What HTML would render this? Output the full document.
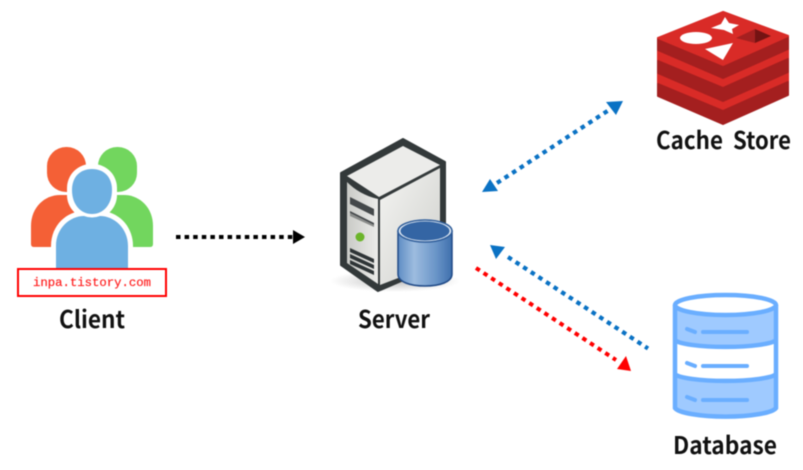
<!DOCTYPE html>
<html><head><meta charset="utf-8"><style>
html,body{margin:0;padding:0;background:#fff}
svg{display:block;filter:blur(.4px)}
text{font-family:"Noto Sans CJK KR","Liberation Sans",sans-serif;font-weight:700;fill:#111}
</style></head><body>
<svg width="803" height="470" viewBox="0 0 803 470" xmlns="http://www.w3.org/2000/svg">
<defs>
<linearGradient id="cyl" x1="0" x2="1" y1="0" y2="0"><stop offset="0" stop-color="#5f8dc4"/><stop offset=".3" stop-color="#9dbcdf"/><stop offset=".7" stop-color="#6a95c8"/><stop offset="1" stop-color="#3f70ad"/></linearGradient>
<linearGradient id="side" x1="0" x2="1" y1="0" y2="1"><stop offset="0" stop-color="#f4f4f2"/><stop offset="1" stop-color="#cfd0cc"/></linearGradient>
<linearGradient id="front" x1="0" x2="1" y1="0" y2="0"><stop offset="0" stop-color="#c9cac6"/><stop offset="1" stop-color="#ececea"/></linearGradient>
<radialGradient id="shadow" cx=".5" cy=".5" r=".5"><stop offset="0" stop-color="#777" stop-opacity=".5"/><stop offset="1" stop-color="#888" stop-opacity="0"/></radialGradient>
</defs>

<!-- Client -->
<rect x="47" y="147" width="39" height="45" rx="19" fill="#f46036"/>
<path d="M34,247Q31,247 31,244V226C31,207 45,195 60,195H90V247Z" fill="#f46036"/>
<rect x="98" y="147" width="39" height="45" rx="19" fill="#72d65e"/>
<path d="M150,247Q153,247 153,244V226C153,207 139,195 124,195H95V247Z" fill="#72d65e"/>
<rect x="67" y="164" width="50" height="55" rx="24" fill="#fff"/>
<path d="M51,270V246C51,225 67,211 84,211H100C117,211 133,225 133,246V270Z" fill="#fff"/>
<path d="M72,190C72,177 80,169 92,169C104,169 112,177 112,190C112,205 103,214 92,214C81,214 72,205 72,190Z" fill="#6eb0e2"/>
<path d="M56,270V246C56,228 70,216 84,216Q92,219 100,216C114,216 128,228 128,246V270Z" fill="#6eb0e2"/>
<rect x="18" y="269" width="148" height="27" fill="#fff" stroke="#f00" stroke-width="2"/>
<text x="92" y="286" text-anchor="middle" textLength="118" lengthAdjust="spacingAndGlyphs" style="font-family:'Liberation Mono',monospace;font-size:11.5px;font-weight:400;fill:#f22;stroke:#f22;stroke-width:.2px">inpa.tistory.com</text>
<text x="59" y="328" font-size="24" textLength="66" lengthAdjust="spacingAndGlyphs">Client</text>

<!-- black arrow -->
<line x1="176" y1="237" x2="294" y2="237" stroke="#000" stroke-width="4" stroke-dasharray="4.5 4.1"/>
<polygon points="293,230 305,237 293,244" fill="#000"/>

<!-- Server -->
<ellipse cx="395" cy="281" rx="65" ry="11" fill="url(#shadow)"/>
<path d="M341,173L403,139L445,162V262L378,291L341,265Z" fill="#33393a" stroke="#33393a" stroke-width="2" stroke-linejoin="round"/>
<path d="M347,176L403,146L440,165L379,197Z" fill="#ececea"/>
<path d="M380,200L440,168V262L380,285Z" fill="url(#side)"/>
<path d="M347,182C355,190 365,196 378,199V284L347,263Z" fill="url(#front)"/>
<path d="M350,197L374,209V216L350,204Z" fill="#44484a"/>
<path d="M350,211L374,223V225L350,213Z" fill="#44484a"/>
<path d="M350,213L374,225V227L350,216Z" fill="#8a8c8a"/>
<circle cx="360" cy="237" r="4.5" fill="#6bb52a"/>
<path d="M350,248L374,259V263L350,252ZM350,254L374,265V269L350,258ZM350,260L374,271V275L350,264Z" fill="#2e3436"/>
<path d="M398,231V274C398,282 410,286 425,286C440,286 452,282 452,274V231Z" fill="url(#cyl)" stroke="#204a87" stroke-width="1.5"/>
<ellipse cx="425" cy="231" rx="27" ry="11" fill="#dfe9f4" stroke="#2f5d9a" stroke-width="1.5"/>
<ellipse cx="425" cy="231" rx="24.5" ry="9.5" fill="#3465a4"/>
<text x="358" y="328" font-size="24" textLength="72" lengthAdjust="spacingAndGlyphs">Server</text>

<!-- Blue arrow up -->
<line x1="497" y1="183" x2="612" y2="108" stroke="#0a72c4" stroke-width="4.2" stroke-dasharray="4.5 4.6"/>
<polygon points="623,101 606,102 616,115" fill="#0a72c4"/>
<polygon points="482,192 490,179 498,191" fill="#0a72c4"/>

<!-- Blue arrow left -->
<line x1="508" y1="257" x2="648" y2="348.5" stroke="#0a72c4" stroke-width="4.2" stroke-dasharray="4.5 4.6"/>
<polygon points="490,245 505,247 496,259" fill="#0a72c4"/>

<!-- Red arrow -->
<line x1="476" y1="268" x2="616" y2="360" stroke="#f00" stroke-width="4" stroke-dasharray="4.5 4.6"/>
<polygon points="631,371 626,356 617,369" fill="#f00"/>

<!-- Redis -->
<g stroke-linejoin="round" stroke-width="2">
<path d="M658,38L723,12L788,36V82L723,111L658,84Z" fill="#d92b27" stroke="#d92b27"/>
<path d="M658,84L723,111L788,82V95L723,124L658,96Z" fill="#a41f1f" stroke="#a41f1f"/>
<path d="M658,61L723,88L788,59V72L723,101L658,73Z" fill="#a41f1f" stroke="#a41f1f"/>
<path d="M658,38L723,65L788,36V49L723,78L658,50Z" fill="#a41f1f" stroke="#a41f1f"/>
<path d="M658,38L723,12L788,36L723,65Z" fill="#d92b27" stroke="#d92b27"/>
</g>
<ellipse cx="696" cy="38" rx="16" ry="6" fill="#fff"/>
<polygon points="725,17 729,23 739,25 732,29 733,34 724,30 711,28 721,24" fill="#fff"/>
<polygon points="705,49 733,43 723,60" fill="#fff"/>
<polygon points="736,38 755,29 755,43" fill="#a52020"/>
<polygon points="755,29 771,36 755,43" fill="#741313"/>
<text x="656" y="149" font-size="24" textLength="67" lengthAdjust="spacingAndGlyphs">Cache</text>
<text x="733" y="149" font-size="24" textLength="58" lengthAdjust="spacingAndGlyphs">Store</text>

<!-- Database -->
<path d="M675,305V408A51,10 0 0 0 776,408V305Z" fill="#9fcaff"/>
<path d="M675,341A51,8 0 0 0 776,341V374A51,8 0 0 1 675,374Z" fill="#fff"/>
<path d="M675,305V408A51,10 0 0 0 776,408V305M675,340A51,8 0 0 0 776,340M675,374A51,8 0 0 0 776,374" fill="none" stroke="#6aaeff" stroke-width="4.5"/>
<ellipse cx="725.5" cy="305" rx="50.5" ry="10" fill="#fff" stroke="#6aaeff" stroke-width="4.5"/>
<g stroke="#6aaeff" stroke-width="4" stroke-linecap="round">
<line x1="687" y1="329" x2="695" y2="332"/><line x1="703" y1="332" x2="747" y2="332"/>
<line x1="687" y1="363" x2="695" y2="366"/><line x1="703" y1="366" x2="747" y2="366"/>
<line x1="687" y1="397" x2="695" y2="400"/><line x1="703" y1="400" x2="747" y2="400"/>
</g>
<text x="673" y="454" font-size="24" textLength="104" lengthAdjust="spacingAndGlyphs">Database</text>
</svg>
</body></html>
